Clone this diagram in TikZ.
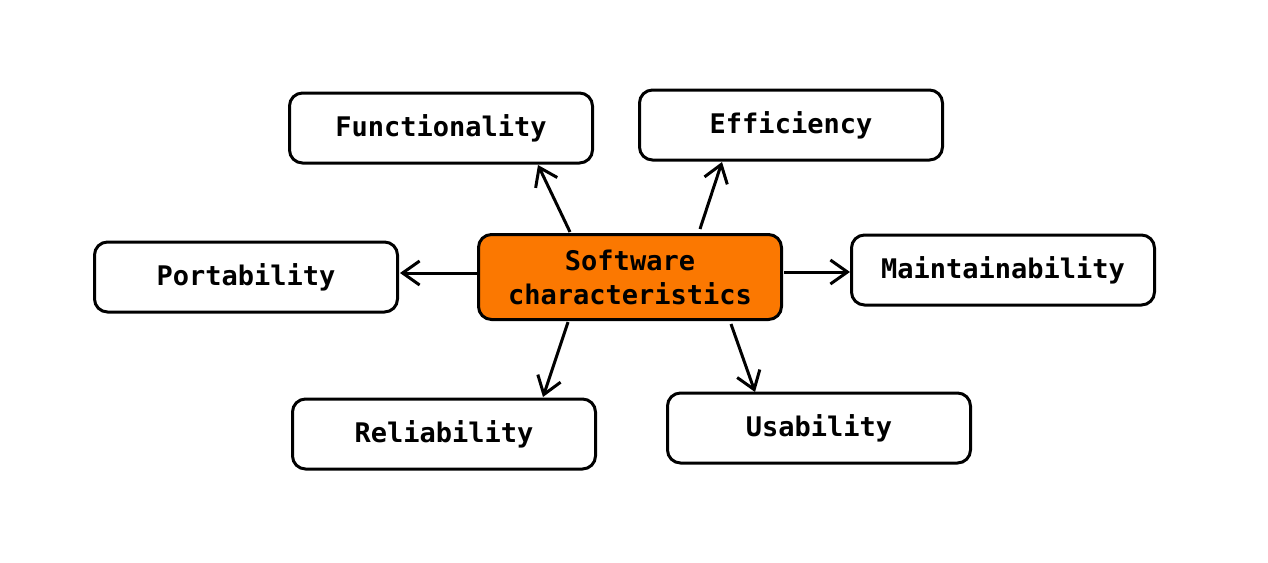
\documentclass[tikz,border=0pt]{standalone}
\usepackage{fontspec}
\setmonofont{DejaVu Sans Mono}
\usetikzlibrary{arrows.meta}
\begin{document}
\begin{tikzpicture}[x=1pt,y=-1pt,
  box/.style={draw=black,line width=3pt,rounded corners=13pt,fill=white,
    minimum width=303pt,minimum height=70pt,inner sep=0pt,
    font=\fontsize{27}{34}\selectfont\ttfamily\bfseries},
  hub/.style={box,fill={rgb,255:red,251;green,120;blue,1},minimum height=85pt,align=center},
  conn/.style={draw=black,line width=3pt,-{Straight Barb[length=17pt,width=24pt,line width=3pt]}}]
\useasboundingbox (0,0) rectangle (1268,562);
\node[hub] (c) at (630,277) {Software\\characteristics};
\node[box] (f) at (441,128) {Functionality};
\node[box] (e) at (791,125) {Efficiency};
\node[box] (p) at (246,277) {Portability};
\node[box] (m) at (1003,270) {Maintainability};
\node[box] (r) at (444,434) {Reliability};
\node[box] (u) at (819,428) {Usability};
\coordinate (c1) at (570,232);
\coordinate (c2) at (700,229);
\coordinate (c3) at (478,273);
\coordinate (c4) at (784,272);
\coordinate (c5) at (568,322);
\coordinate (c6) at (731,324);
\coordinate (t1) at (538,165);
\coordinate (t2) at (722,162);
\coordinate (t3) at (400,273);
\coordinate (t4) at (850,272);
\coordinate (t5) at (543,397);
\coordinate (t6) at (755,392);
\draw[conn] (c1) -- (t1);
\draw[conn] (c2) -- (t2);
\draw[conn] (c3) -- (t3);
\draw[conn] (c4) -- (t4);
\draw[conn] (c5) -- (t5);
\draw[conn] (c6) -- (t6);
\end{tikzpicture}
\end{document}
